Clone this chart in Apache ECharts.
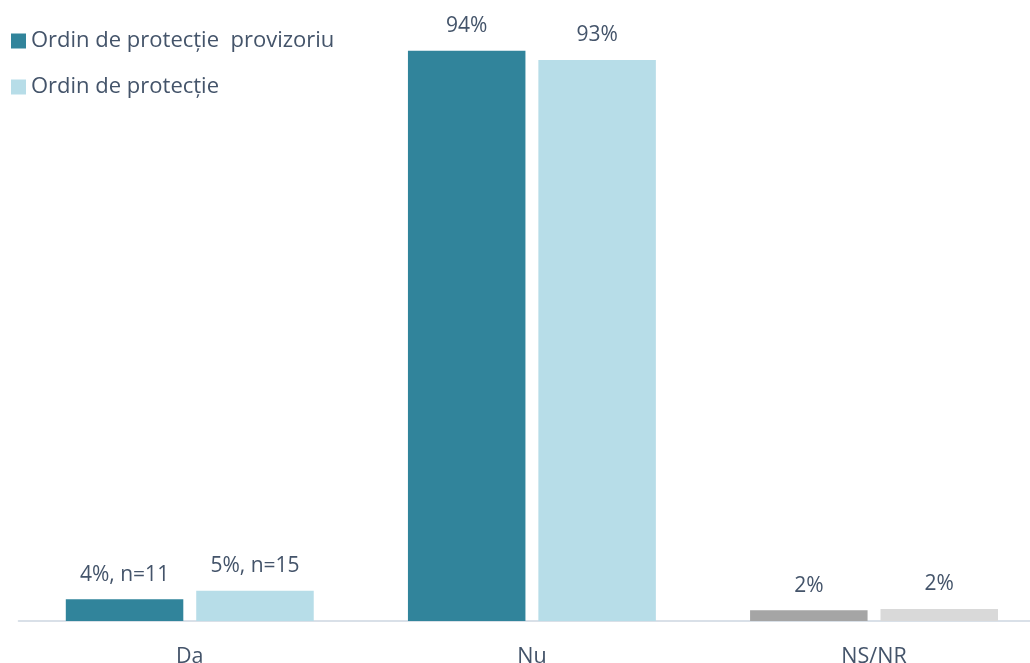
<!DOCTYPE html>
<html>
<head>
<meta charset="utf-8">
<script src="https://cdn.jsdelivr.net/npm/echarts@6/dist/echarts.min.js"></script>
<style>html,body{margin:0;padding:0;background:#fff}#c{width:1030px;height:663px}</style>
</head>
<body>
<div id="c"></div>
<script>
const categories = ['Da', 'Nu', 'NS/NR'];
const seriesNames = ['Ordin de protecție  provizoriu', 'Ordin de protecție'];
const provizoriuValues = [3.6, 94.4, 1.8];
const ordinValues = [5.0, 92.9, 2.0];
const provizoriuLabels = ['4%, n=11', '94%', '2%'];
const ordinLabels = ['5%, n=15', '93%', '2%'];

const TEXT = '#44546a';
const FONT = 'Open Sans';
const colA = '#31849b', colB = '#b7dde8';
const grayA = '#a5a5a5', grayB = '#d9d9d9';

function mk(vals, labels, color, gray) {
  return vals.map((v, i) => ({
    value: v,
    label: { formatter: labels[i] },
    itemStyle: { color: categories[i] === 'NS/NR' ? gray : color }
  }));
}

const chart = echarts.init(document.getElementById('c'));
chart.setOption({
  animation: false,
  textStyle: { fontFamily: FONT },
  legend: {
    orient: 'vertical', left: 11, top: 29, padding: 0,
    icon: 'rect', itemWidth: 15, itemHeight: 15, itemGap: 22,
    textStyle: { color: TEXT, fontSize: 22, fontFamily: FONT, lineHeight: 24 },
    data: seriesNames
  },
  grid: { left: 18.7, width: 1026.4, top: 17, bottom: 42, containLabel: false, outerBoundsMode: 'none' },
  xAxis: {
    type: 'category', data: categories,
    axisLine: { lineStyle: { color: '#d9e0e8', width: 2 } },
    axisTick: { show: false },
    axisLabel: { color: TEXT, fontSize: 21.5, fontFamily: FONT, margin: 25 }
  },
  yAxis: { type: 'value', min: 0, max: 100, show: false, splitLine: { show: false } },
  series: [
    {
      name: seriesNames[0], type: 'bar', barWidth: 117.5, barGap: '11%',
      itemStyle: { color: colA },
      label: { show: true, position: 'top', distance: 14, color: TEXT, fontSize: 21, fontFamily: FONT },
      data: mk(provizoriuValues, provizoriuLabels, colA, grayA)
    },
    {
      name: seriesNames[1], type: 'bar', barWidth: 117.5, barGap: '11%',
      itemStyle: { color: colB },
      label: { show: true, position: 'top', distance: 14, color: TEXT, fontSize: 21, fontFamily: FONT },
      data: mk(ordinValues, ordinLabels, colB, grayB)
    }
  ]
});
</script>
</body>
</html>
